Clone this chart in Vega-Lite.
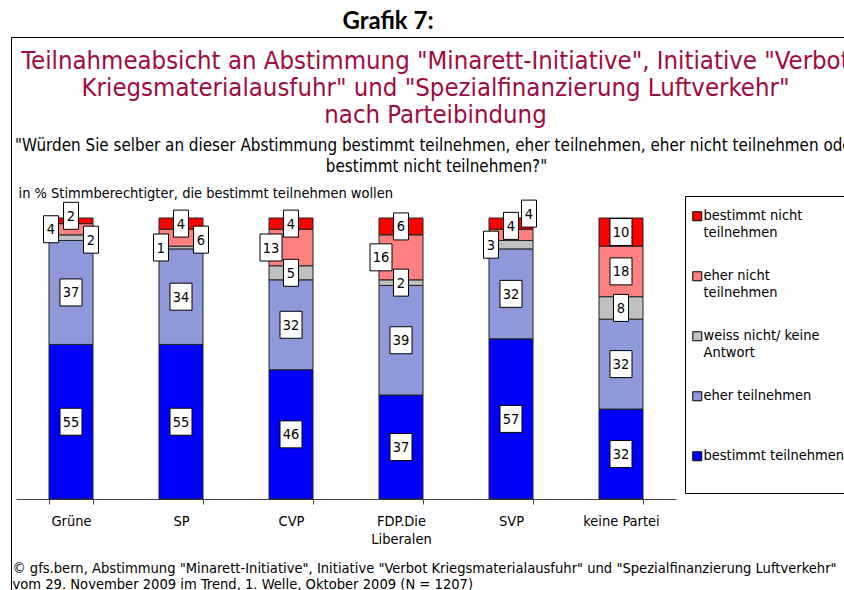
{
  "$schema": "https://vega.github.io/schema/vega-lite/v6.json",
  "width": 660,
  "height": 281,
  "autosize": "none",
  "padding": {"left": 16, "top": 218, "right": 168, "bottom": 91},
  "background": "white",
  "config": {
    "font": "DejaVu Sans Condensed, DejaVu Sans",
    "view": {"stroke": null},
    "legend": {"labelFont": "DejaVu Sans Condensed, DejaVu Sans"}
  },
  "title": {
    "text": "Grafik 7:",
    "font": "Lato",
    "fontSize": 24,
    "fontWeight": "bold",
    "color": "#000000",
    "anchor": "middle",
    "frame": "group",
    "dx": 42,
    "offset": 3
  },
  "data": {
    "values": [
      {"partei": "Grüne", "antwort": "bestimmt teilnehmen", "wert": 55},
      {"partei": "Grüne", "antwort": "eher teilnehmen", "wert": 37},
      {"partei": "Grüne", "antwort": "weiss nicht/ keine Antwort", "wert": 2},
      {"partei": "Grüne", "antwort": "eher nicht teilnehmen", "wert": 4},
      {"partei": "Grüne", "antwort": "bestimmt nicht teilnehmen", "wert": 2},
      {"partei": "SP", "antwort": "bestimmt teilnehmen", "wert": 55},
      {"partei": "SP", "antwort": "eher teilnehmen", "wert": 34},
      {"partei": "SP", "antwort": "weiss nicht/ keine Antwort", "wert": 1},
      {"partei": "SP", "antwort": "eher nicht teilnehmen", "wert": 6},
      {"partei": "SP", "antwort": "bestimmt nicht teilnehmen", "wert": 4},
      {"partei": "CVP", "antwort": "bestimmt teilnehmen", "wert": 46},
      {"partei": "CVP", "antwort": "eher teilnehmen", "wert": 32},
      {"partei": "CVP", "antwort": "weiss nicht/ keine Antwort", "wert": 5},
      {"partei": "CVP", "antwort": "eher nicht teilnehmen", "wert": 13},
      {"partei": "CVP", "antwort": "bestimmt nicht teilnehmen", "wert": 4},
      {"partei": "FDP.Die Liberalen", "antwort": "bestimmt teilnehmen", "wert": 37},
      {"partei": "FDP.Die Liberalen", "antwort": "eher teilnehmen", "wert": 39},
      {"partei": "FDP.Die Liberalen", "antwort": "weiss nicht/ keine Antwort", "wert": 2},
      {"partei": "FDP.Die Liberalen", "antwort": "eher nicht teilnehmen", "wert": 16},
      {"partei": "FDP.Die Liberalen", "antwort": "bestimmt nicht teilnehmen", "wert": 6},
      {"partei": "SVP", "antwort": "bestimmt teilnehmen", "wert": 57},
      {"partei": "SVP", "antwort": "eher teilnehmen", "wert": 32},
      {"partei": "SVP", "antwort": "weiss nicht/ keine Antwort", "wert": 3},
      {"partei": "SVP", "antwort": "eher nicht teilnehmen", "wert": 4},
      {"partei": "SVP", "antwort": "bestimmt nicht teilnehmen", "wert": 4},
      {"partei": "keine Partei", "antwort": "bestimmt teilnehmen", "wert": 32},
      {"partei": "keine Partei", "antwort": "eher teilnehmen", "wert": 32},
      {"partei": "keine Partei", "antwort": "weiss nicht/ keine Antwort", "wert": 8},
      {"partei": "keine Partei", "antwort": "eher nicht teilnehmen", "wert": 18},
      {"partei": "keine Partei", "antwort": "bestimmt nicht teilnehmen", "wert": 10}
    ]
  },
  "transform": [
    {"calculate": "indexof(['bestimmt teilnehmen','eher teilnehmen','weiss nicht/ keine Antwort','eher nicht teilnehmen','bestimmt nicht teilnehmen'], datum.antwort)", "as": "k"},
    {"stack": "wert", "groupby": ["partei"], "sort": [{"field": "k", "order": "ascending"}], "as": ["y0", "y1"]},
    {"calculate": "(datum.y0 + datum.y1) / 2", "as": "ym"},
    {"calculate": "datum.partei + '|' + datum.antwort", "as": "key"}
  ],
  "resolve": {"axis": {"x": "independent", "y": "independent"}, "legend": {"color": "independent", "opacity": "independent"}},
  "layer": [
    {
      "mark": {"type": "bar", "stroke": "#222222", "strokeWidth": 1},
      "encoding": {
        "x": {
          "field": "partei", "type": "nominal",
          "sort": ["Grüne", "SP", "CVP", "FDP.Die Liberalen", "SVP", "keine Partei"],
          "scale": {"paddingInner": 0.6, "paddingOuter": 0.3},
          "axis": {
            "orient": "bottom",
            "labelAngle": 0,
            "labelFontSize": 14.5,
            "labelColor": "#000000",
            "labelPadding": 10,
            "labelLineHeight": 18,
            "labelLimit": 200,
            "labelExpr": "datum.value == 'FDP.Die Liberalen' ? ['FDP.Die', 'Liberalen'] : datum.value",
            "tickBand": "extent",
            "tickSize": 5,
            "tickColor": "#444444",
            "domainColor": "#444444",
            "grid": false,
            "title": ["© gfs.bern, Abstimmung \"Minarett-Initiative\", Initiative \"Verbot Kriegsmaterialausfuhr\" und \"Spezialfinanzierung Luftverkehr\"", "vom 29. November 2009 im Trend, 1. Welle, Oktober 2009 (N = 1207)"],
            "titleFontSize": 14.6,
            "titleFontWeight": "normal",
            "titleColor": "#000000",
            "titleAlign": "left",
            "titleAnchor": "start",
            "titleBaseline": "alphabetic",
            "titleX": -4,
            "titleY": 73,
            "titleLineHeight": 16,
            "titleLimit": 1000
          }
        },
        "y": {
          "field": "y0", "type": "quantitative",
          "scale": {"domain": [0, 100], "nice": false},
          "axis": {
            "orient": "left",
            "domain": false, "ticks": false, "labels": false, "grid": false,
            "title": "in % Stimmberechtigter, die bestimmt teilnehmen wollen",
            "titleAngle": 0,
            "titleAlign": "left",
            "titleBaseline": "alphabetic",
            "titleFontSize": 14.5,
            "titleFontWeight": "normal",
            "titleColor": "#000000",
            "titleX": 2,
            "titleY": -21,
            "titleLimit": 800
          }
        },
        "y2": {"field": "y1"},
        "color": {
          "field": "antwort", "type": "nominal",
          "scale": {
            "domain": ["bestimmt nicht teilnehmen", "eher nicht teilnehmen", "weiss nicht/ keine Antwort", "eher teilnehmen", "bestimmt teilnehmen"],
            "range": ["#FF0000", "#FF8080", "#C0C0C0", "#8F98D8", "#0000FF"]
          },
          "legend": {
            "orient": "none",
            "legendX": 669,
            "legendY": -22,
            "title": " ",
            "titleOrient": "bottom",
            "titleFontSize": 10,
            "titlePadding": 7,
            "padding": 13,
            "strokeColor": "#000000",
            "rowPadding": 28,
            "gridAlign": "all",
            "symbolType": "square",
            "symbolSize": 81,
            "symbolStrokeColor": "#000000",
            "symbolStrokeWidth": 1,
            "symbolOffset": -8,
            "labelOffset": -1,
            "labelFontSize": 14.5,
            "labelColor": "#000000",
            "labelLineHeight": 18,
            "labelLimit": 300,
            "labelBaseline": "middle",
            "labelExpr": "datum.label == 'bestimmt nicht teilnehmen' ? ['bestimmt nicht', 'teilnehmen'] : datum.label == 'eher nicht teilnehmen' ? ['eher nicht', 'teilnehmen'] : datum.label == 'weiss nicht/ keine Antwort' ? ['weiss nicht/ keine', 'Antwort'] : datum.label"
          }
        }
      }
    },
    {
      "mark": {"type": "text", "text": ""},
      "encoding": {
        "opacity": {
          "datum": "Rahmen", "type": "ordinal",
          "scale": {"range": [0, 0]},
          "legend": {
            "orient": "none",
            "legendX": -5,
            "legendY": -181,
            "title": null,
            "padding": 418,
            "strokeColor": "#000000",
            "symbolOpacity": 0,
            "labelExpr": "''",
            "encode": {"legend": {"update": {"strokeWidth": {"value": 2.5}}}}
          }
        }
      }
    },
    {
      "transform": [{"filter": "indexof(['Grüne|eher nicht teilnehmen','SP|weiss nicht/ keine Antwort','CVP|eher nicht teilnehmen','FDP.Die Liberalen|eher nicht teilnehmen','SVP|weiss nicht/ keine Antwort','Grüne|weiss nicht/ keine Antwort','SP|eher nicht teilnehmen','SVP|bestimmt nicht teilnehmen','SVP|eher nicht teilnehmen','Grüne|bestimmt nicht teilnehmen'], datum.key) < 0"}],
      "encoding": {
        "x": {
          "field": "partei", "type": "nominal",
          "sort": ["Grüne", "SP", "CVP", "FDP.Die Liberalen", "SVP", "keine Partei"],
          "axis": {
            "orient": "top",
            "domain": false, "ticks": false, "labels": false, "grid": false,
            "title": ["Teilnahmeabsicht an Abstimmung \"Minarett-Initiative\", Initiative \"Verbot", "Kriegsmaterialausfuhr\" und \"Spezialfinanzierung Luftverkehr\"", "nach Parteibindung"],
            "titleFontSize": 25.5,
            "titleFontWeight": "normal",
            "titleColor": "#A00A40",
            "titleAlign": "center",
            "titleBaseline": "alphabetic",
            "titleX": 419,
            "titleY": -150,
            "titleLineHeight": 27,
            "titleLimit": 2000
          }
        },
        "y": {
          "field": "ym", "type": "quantitative",
          "axis": {
            "orient": "right",
            "domain": false, "ticks": false, "labels": false, "grid": false,
            "title": ["\"Würden Sie selber an dieser Abstimmung bestimmt teilnehmen, eher teilnehmen, eher nicht teilnehmen oder", "bestimmt nicht teilnehmen?\""],
            "titleAngle": 0,
            "titleAlign": "center",
            "titleBaseline": "alphabetic",
            "titleFontSize": 16.9,
            "titleFontWeight": "normal",
            "titleColor": "#000000",
            "titleX": -240,
            "titleY": -68,
            "titleLineHeight": 21,
            "titleLimit": 2000
          }
        }
      },
      "layer": [
        {
          "mark": {"type": "point", "filled": true, "fill": "white", "stroke": "black", "strokeWidth": 1, "opacity": 1, "size": 729},
          "encoding": {"shape": {"condition": {"test": "datum.wert >= 10", "value": "M-0.815,-1H0.815V1H-0.815Z"}, "value": "M-0.556,-1H0.556V1H-0.556Z"}}
        },
        {
          "mark": {"type": "text", "fontSize": 14.5, "color": "black", "baseline": "middle", "dy": 1},
          "encoding": {"text": {"field": "wert", "type": "quantitative"}}
        }
      ]
    },
    {
      "transform": [{"filter": "indexof(['Grüne|eher nicht teilnehmen','SP|weiss nicht/ keine Antwort','CVP|eher nicht teilnehmen','FDP.Die Liberalen|eher nicht teilnehmen','SVP|weiss nicht/ keine Antwort'], datum.key) >= 0"}],
      "encoding": {
        "x": {"field": "partei", "type": "nominal", "sort": ["Grüne", "SP", "CVP", "FDP.Die Liberalen", "SVP", "keine Partei"], "axis": null},
        "y": {"field": "ym", "type": "quantitative", "axis": null}
      },
      "layer": [
        {
          "mark": {"type": "point", "filled": true, "fill": "white", "stroke": "black", "strokeWidth": 1, "opacity": 1, "size": 729, "xOffset": -20},
          "encoding": {"shape": {"condition": {"test": "datum.wert >= 10", "value": "M-0.815,-1H0.815V1H-0.815Z"}, "value": "M-0.556,-1H0.556V1H-0.556Z"}}
        },
        {
          "mark": {"type": "text", "fontSize": 14.5, "color": "black", "baseline": "middle", "dy": 1, "xOffset": -20},
          "encoding": {"text": {"field": "wert", "type": "quantitative"}}
        }
      ]
    },
    {
      "transform": [{"filter": "indexof(['Grüne|weiss nicht/ keine Antwort','SP|eher nicht teilnehmen'], datum.key) >= 0"}],
      "encoding": {
        "x": {"field": "partei", "type": "nominal", "sort": ["Grüne", "SP", "CVP", "FDP.Die Liberalen", "SVP", "keine Partei"], "axis": null},
        "y": {"field": "ym", "type": "quantitative", "axis": null}
      },
      "layer": [
        {
          "mark": {"type": "point", "filled": true, "fill": "white", "stroke": "black", "strokeWidth": 1, "opacity": 1, "size": 729, "xOffset": 20, "yOffset": 2},
          "encoding": {"shape": {"condition": {"test": "datum.wert >= 10", "value": "M-0.815,-1H0.815V1H-0.815Z"}, "value": "M-0.556,-1H0.556V1H-0.556Z"}}
        },
        {
          "mark": {"type": "text", "fontSize": 14.5, "color": "black", "baseline": "middle", "dy": 1, "xOffset": 20, "yOffset": 2},
          "encoding": {"text": {"field": "wert", "type": "quantitative"}}
        }
      ]
    },
    {
      "transform": [{"filter": "datum.key == 'SVP|bestimmt nicht teilnehmen'"}],
      "encoding": {
        "x": {"field": "partei", "type": "nominal", "sort": ["Grüne", "SP", "CVP", "FDP.Die Liberalen", "SVP", "keine Partei"], "axis": null},
        "y": {"field": "ym", "type": "quantitative", "axis": null}
      },
      "layer": [
        {
          "mark": {"type": "point", "filled": true, "fill": "white", "stroke": "black", "strokeWidth": 1, "opacity": 1, "size": 729, "xOffset": 18, "yOffset": -10},
          "encoding": {"shape": {"condition": {"test": "datum.wert >= 10", "value": "M-0.815,-1H0.815V1H-0.815Z"}, "value": "M-0.556,-1H0.556V1H-0.556Z"}}
        },
        {
          "mark": {"type": "text", "fontSize": 14.5, "color": "black", "baseline": "middle", "dy": 1, "xOffset": 18, "yOffset": -10},
          "encoding": {"text": {"field": "wert", "type": "quantitative"}}
        }
      ]
    },
    {
      "transform": [{"filter": "datum.key == 'SVP|eher nicht teilnehmen'"}],
      "encoding": {
        "x": {"field": "partei", "type": "nominal", "sort": ["Grüne", "SP", "CVP", "FDP.Die Liberalen", "SVP", "keine Partei"], "axis": null},
        "y": {"field": "ym", "type": "quantitative", "axis": null}
      },
      "layer": [
        {
          "mark": {"type": "point", "filled": true, "fill": "white", "stroke": "black", "strokeWidth": 1, "opacity": 1, "size": 729, "yOffset": -9},
          "encoding": {"shape": {"condition": {"test": "datum.wert >= 10", "value": "M-0.815,-1H0.815V1H-0.815Z"}, "value": "M-0.556,-1H0.556V1H-0.556Z"}}
        },
        {
          "mark": {"type": "text", "fontSize": 14.5, "color": "black", "baseline": "middle", "dy": 1, "yOffset": -9},
          "encoding": {"text": {"field": "wert", "type": "quantitative"}}
        }
      ]
    },
    {
      "transform": [{"filter": "datum.key == 'Grüne|bestimmt nicht teilnehmen'"}],
      "encoding": {
        "x": {"field": "partei", "type": "nominal", "sort": ["Grüne", "SP", "CVP", "FDP.Die Liberalen", "SVP", "keine Partei"], "axis": null},
        "y": {"field": "ym", "type": "quantitative", "axis": null}
      },
      "layer": [
        {
          "mark": {"type": "point", "filled": true, "fill": "white", "stroke": "black", "strokeWidth": 1, "opacity": 1, "size": 729, "yOffset": -5},
          "encoding": {"shape": {"condition": {"test": "datum.wert >= 10", "value": "M-0.815,-1H0.815V1H-0.815Z"}, "value": "M-0.556,-1H0.556V1H-0.556Z"}}
        },
        {
          "mark": {"type": "text", "fontSize": 14.5, "color": "black", "baseline": "middle", "dy": 1, "yOffset": -5},
          "encoding": {"text": {"field": "wert", "type": "quantitative"}}
        }
      ]
    }
  ]
}
